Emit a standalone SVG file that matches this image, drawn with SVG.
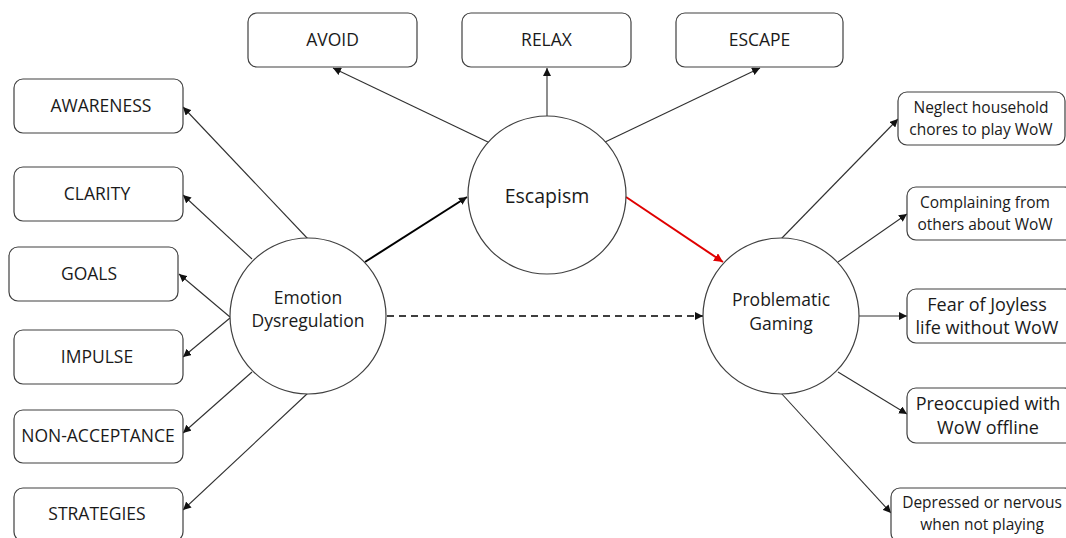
<svg xmlns="http://www.w3.org/2000/svg" width="1066" height="538" viewBox="0 0 1066 538">
<defs>
<style>
.box{fill:#fff;stroke:#404040;stroke-width:1.2}
.circ{fill:#fff;stroke:#404040;stroke-width:1.2}
.t{font-family:"Open Sans","Liberation Sans",sans-serif;fill:#1a1a1a;text-anchor:middle}
.lbl{font-size:17.5px}
.sm{font-size:15.5px}
.md{font-size:17.5px}
.rt{font-size:18px}
.big{font-size:19.5px}
.c{stroke:#303030;stroke-width:1.1;fill:none}
</style>
<marker id="ah" viewBox="0 0 10 10" refX="10" refY="5" markerWidth="8" markerHeight="8" markerUnits="userSpaceOnUse" orient="auto"><path d="M0,0 L10,5 L0,10 z" fill="#111"/></marker>
<marker id="ahr" viewBox="0 0 10 10" refX="10" refY="5" markerWidth="9" markerHeight="9" markerUnits="userSpaceOnUse" orient="auto"><path d="M0,0 L10,5 L0,10 z" fill="#e00000"/></marker>
</defs>
<rect width="1066" height="538" fill="#fff"/>
<g id="connectors">
<line class="c" x1="490" y1="143" x2="333" y2="68" marker-end="url(#ah)"/>
<line class="c" x1="547" y1="120" x2="547" y2="68" marker-end="url(#ah)"/>
<line class="c" x1="603" y1="143" x2="760" y2="68" marker-end="url(#ah)"/>
<line class="c" x1="308" y1="239" x2="183" y2="107" marker-end="url(#ah)"/>
<line class="c" x1="252" y1="259" x2="183" y2="195" marker-end="url(#ah)"/>
<line class="c" x1="230" y1="317" x2="179" y2="274" marker-end="url(#ah)"/>
<line class="c" x1="230" y1="318" x2="183" y2="357" marker-end="url(#ah)"/>
<line class="c" x1="252" y1="372" x2="183" y2="433" marker-end="url(#ah)"/>
<line class="c" x1="308" y1="393" x2="183" y2="510" marker-end="url(#ah)"/>
<line x1="365" y1="262" x2="467" y2="197" stroke="#000" stroke-width="2" marker-end="url(#ah)"/>
<line x1="626" y1="197" x2="723" y2="262" stroke="#e00000" stroke-width="2" marker-end="url(#ahr)"/>
<line x1="387" y1="316" x2="703" y2="316" stroke="#000" stroke-width="1.5" stroke-dasharray="7,5" marker-end="url(#ah)"/>
<line class="c" x1="781" y1="239" x2="898" y2="119" marker-end="url(#ah)"/>
<line class="c" x1="838" y1="262" x2="907" y2="214" marker-end="url(#ah)"/>
<line class="c" x1="859" y1="316" x2="907" y2="316" marker-end="url(#ah)"/>
<line class="c" x1="838" y1="372" x2="907" y2="414" marker-end="url(#ah)"/>
<line class="c" x1="781" y1="393" x2="891" y2="513" marker-end="url(#ah)"/>
</g>
<g id="avoid"><rect class="box" x="248" y="13" width="169" height="54" rx="9"/><text class="t lbl" x="332.5" y="46">AVOID</text></g>
<g id="relax"><rect class="box" x="462" y="13" width="169" height="54" rx="9"/><text class="t lbl" x="546.5" y="46">RELAX</text></g>
<g id="escape"><rect class="box" x="676" y="13" width="167" height="54" rx="9"/><text class="t lbl" x="759.5" y="46">ESCAPE</text></g>
<g id="awareness"><rect class="box" x="14" y="79" width="169" height="54" rx="9"/><text class="t lbl" x="101" y="112">AWARENESS</text></g>
<g id="clarity"><rect class="box" x="14" y="167" width="169" height="54" rx="9"/><text class="t lbl" x="97" y="200">CLARITY</text></g>
<g id="goals"><rect class="box" x="9" y="247" width="169" height="54" rx="9"/><text class="t lbl" x="89" y="280">GOALS</text></g>
<g id="impulse"><rect class="box" x="14" y="330" width="169" height="54" rx="9"/><text class="t lbl" x="97" y="363">IMPULSE</text></g>
<g id="nonacceptance"><rect class="box" x="14" y="410" width="169" height="53" rx="9"/><text class="t lbl" x="98" y="442">NON-ACCEPTANCE</text></g>
<g id="strategies"><rect class="box" x="14" y="488" width="169" height="53" rx="9"/><text class="t lbl" x="97" y="520">STRATEGIES</text></g>
<g id="escapism"><circle class="circ" cx="547" cy="195" r="79"/><text class="t big" x="547" y="203">Escapism</text></g>
<g id="emotion"><circle class="circ" cx="308" cy="316" r="78"/><text class="t md" x="308" y="304">Emotion</text><text class="t md" x="308" y="327">Dysregulation</text></g>
<g id="problematic"><circle class="circ" cx="781" cy="316" r="78"/><text class="t md" x="781" y="306">Problematic</text><text class="t md" x="781" y="330">Gaming</text></g>
<g id="neglect"><rect class="box" x="898" y="92" width="167" height="53" rx="9"/><text class="t sm" x="981" y="113">Neglect household</text><text class="t sm" x="981" y="135">chores to play WoW</text></g>
<g id="complaining"><rect class="box" x="907" y="187" width="166" height="53" rx="9"/><text class="t sm" x="985" y="208">Complaining from</text><text class="t sm" x="985" y="230">others about WoW</text></g>
<g id="fear"><rect class="box" x="907" y="289" width="166" height="54" rx="9"/><text class="t rt" x="987" y="311">Fear of Joyless</text><text class="t rt" x="987" y="334">life without WoW</text></g>
<g id="preoccupied"><rect class="box" x="907" y="388" width="166" height="55" rx="9"/><text class="t rt" x="988" y="410">Preoccupied with</text><text class="t rt" x="988" y="434">WoW offline</text></g>
<g id="depressed"><rect class="box" x="891" y="488" width="182" height="54" rx="9"/><text class="t sm" x="982" y="508">Depressed or nervous</text><text class="t sm" x="982" y="530">when not playing</text></g>
</svg>
